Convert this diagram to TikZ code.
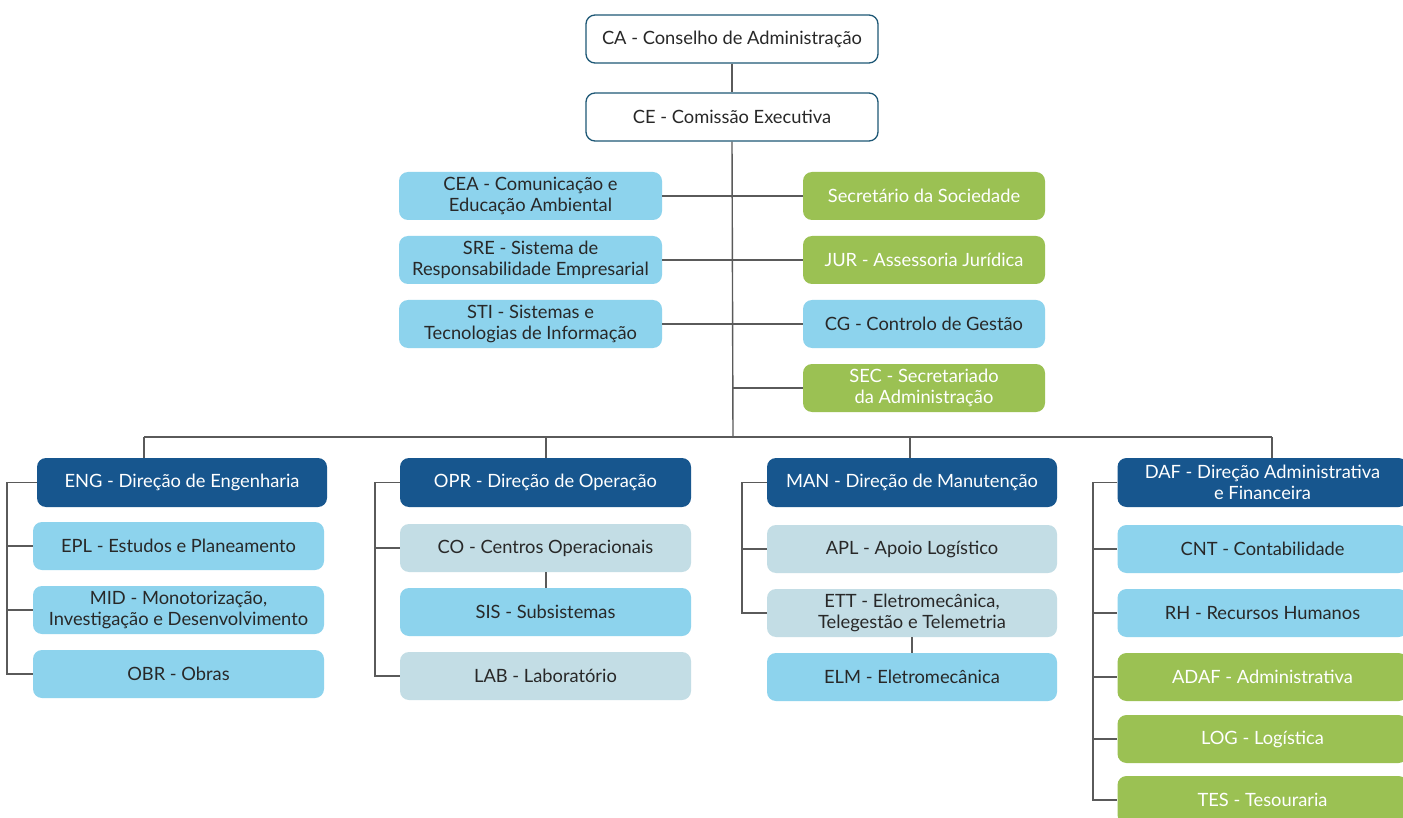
\documentclass[tikz,border=0pt]{standalone}
\usepackage{fontspec}
\setmainfont{Lato}
\definecolor{dblue}{RGB}{23,86,142}
\definecolor{lblue}{RGB}{141,211,237}
\definecolor{pblue}{RGB}{195,221,229}
\definecolor{lgreen}{RGB}{155,193,83}
\definecolor{cabord}{RGB}{30,88,118}
\definecolor{linec}{RGB}{90,90,90}
\definecolor{txt}{RGB}{40,40,40}
\tikzset{
  base/.style={rounded corners=9pt, inner sep=0pt, align=center, font=\fontsize{18.3}{21.5}\selectfont, minimum height=48pt},
  wbox/.style={base, draw=cabord, line width=1.3pt, fill=white, text=txt},
  dbox/.style={base, fill=dblue, text=white},
  lbox/.style={base, fill=lblue, text=txt},
  pbox/.style={base, fill=pblue, text=txt},
  gbox/.style={base, fill=lgreen, text=white},
  conn/.style={draw=linec, line width=1.4pt}
}
\begin{document}
\begin{tikzpicture}[x=1pt,y=-1pt]
\clip (0,0) rectangle (1403,818);
\fill[white] (0,0) rectangle (1403,818);
% top
\node[wbox, minimum width=292pt] (CA) at (732,39) {CA - Conselho de Administração};
\node[wbox, minimum width=292pt] (CE) at (732,117) {CE - Comissão Executiva};
% staff
\node[lbox, minimum width=263pt] (CEA) at (530.5,196) {CEA - Comunicação e\\Educação Ambiental};
\node[lbox, minimum width=263pt] (SRE) at (530.5,260) {SRE - Sistema de\\Responsabilidade Empresarial};
\node[lbox, minimum width=263pt] (STI) at (530.5,324) {STI - Sistemas e\\Tecnologias de Informação};
\node[gbox, minimum width=242pt] (SS) at (924,196) {Secretário da Sociedade};
\node[gbox, minimum width=242pt] (JUR) at (924,260) {JUR - Assessoria Jurídica};
\node[lbox, minimum width=242pt] (CG) at (924,324) {CG - Controlo de Gestão};
\node[gbox, minimum width=242pt] (SEC) at (924,388) {SEC - Secretariado\\da Administração};
% ENG
\node[dbox, minimum width=290pt, minimum height=49pt] (ENG) at (182,482.5) {ENG - Direção de Engenharia};
\node[lbox, minimum width=291pt] (EPL) at (178.5,546) {EPL - Estudos e Planeamento};
\node[lbox, minimum width=291pt] (MID) at (178.5,610) {MID - Monotorização,\\Investigação e Desenvolvimento};
\node[lbox, minimum width=291pt] (OBR) at (178.5,674) {OBR - Obras};
% OPR
\node[dbox, minimum width=291pt, minimum height=49pt] (OPR) at (545.5,482.5) {OPR - Direção de Operação};
\node[pbox, minimum width=291pt] (CO) at (545.5,548) {CO - Centros Operacionais};
\node[lbox, minimum width=291pt] (SIS) at (545.5,612) {SIS - Subsistemas};
\node[pbox, minimum width=291pt] (LAB) at (545.5,676) {LAB - Laboratório};
% MAN
\node[dbox, minimum width=290pt, minimum height=49pt] (MAN) at (912,482.5) {MAN - Direção de Manutenção};
\node[pbox, minimum width=290pt] (APL) at (912,549) {APL - Apoio Logístico};
\node[pbox, minimum width=290pt] (ETT) at (912,613) {ETT - Eletromecânica,\\Telegestão e Telemetria};
\node[lbox, minimum width=290pt] (ELM) at (912,677) {ELM - Eletromecânica};
% DAF
\node[dbox, minimum width=290pt, minimum height=49pt] (DAF) at (1262.5,482.5) {DAF - Direção Administrativa\\e Financeira};
\node[lbox, minimum width=290pt] (CNT) at (1262.5,549) {CNT - Contabilidade};
\node[lbox, minimum width=290pt] (RH) at (1262.5,613) {RH - Recursos Humanos};
\node[gbox, minimum width=290pt] (ADAF) at (1262.5,677) {ADAF - Administrativa};
\node[gbox, minimum width=290pt] (LOG) at (1262.5,739) {LOG - Logística};
\node[gbox, minimum width=290pt] (TES) at (1262.5,800) {TES - Tesouraria};
% coordinates
\coordinate (bus) at (733,437);
\coordinate (b1) at (144,437);
\coordinate (b2) at (546,437);
\coordinate (b3) at (910,437);
\coordinate (b4) at (1272,437);
\coordinate (r1) at (7,0);
\coordinate (r2) at (375,0);
\coordinate (r3) at (742,0);
\coordinate (r4) at (1093,0);
% connectors
\draw[conn] (CA.south) -- (CE.north);
\draw[conn] (CE.south) -- (bus);
\draw[conn] (CEA.east) -- (SS.west);
\draw[conn] (SRE.east) -- (JUR.west);
\draw[conn] (STI.east) -- (CG.west);
\draw[conn] (SEC.west) -- (SEC.west -| bus);
\draw[conn] (b1) -- (b4);
\draw[conn] (b1) -- (b1 |- ENG.north);
\draw[conn] (b2) -- (b2 |- OPR.north);
\draw[conn] (b3) -- (b3 |- MAN.north);
\draw[conn] (b4) -- (b4 |- DAF.north);
% ENG rail
\draw[conn] (ENG.west) -- (ENG.west -| r1) -- (OBR.west -| r1) -- (OBR.west);
\draw[conn] (EPL.west -| r1) -- (EPL.west);
\draw[conn] (MID.west -| r1) -- (MID.west);
% OPR rail
\draw[conn] (OPR.west) -- (OPR.west -| r2) -- (LAB.west -| r2) -- (LAB.west);
\draw[conn] (CO.west -| r2) -- (CO.west);
\draw[conn] (CO.south -| b2) -- (SIS.north -| b2);
% MAN rail
\draw[conn] (MAN.west) -- (MAN.west -| r3) -- (ETT.west -| r3) -- (ETT.west);
\draw[conn] (APL.west -| r3) -- (APL.west);
\draw[conn] (ETT.south) -- (ELM.north);
% DAF rail
\draw[conn] (DAF.west) -- (DAF.west -| r4) -- (TES.west -| r4) -- (TES.west);
\draw[conn] (CNT.west -| r4) -- (CNT.west);
\draw[conn] (RH.west -| r4) -- (RH.west);
\draw[conn] (ADAF.west -| r4) -- (ADAF.west);
\draw[conn] (LOG.west -| r4) -- (LOG.west);
\end{tikzpicture}
\end{document}
